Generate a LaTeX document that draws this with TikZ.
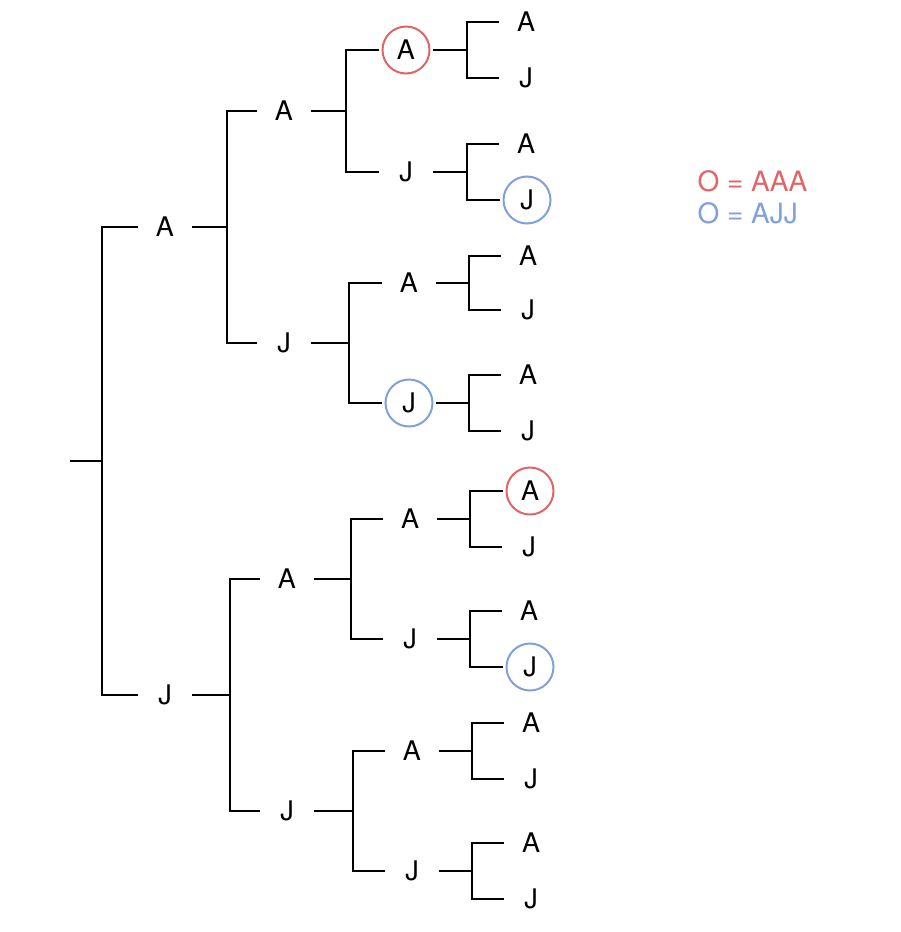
\documentclass[tikz,border=0pt]{standalone}
\usepackage{fontspec}
\setmainfont{TeX Gyre Heros}
\definecolor{pickred}{HTML}{E06666}
\definecolor{pickblue}{HTML}{7EA1DD}
\tikzset{lbl/.style={circle, inner sep=0pt, minimum size=54pt, font=\fontsize{27}{32}\selectfont},
	hitred/.style={lbl, minimum size=47pt, outer sep=3.5pt, draw=pickred, line width=2pt},
	hitblue/.style={lbl, minimum size=47pt, outer sep=3.5pt, draw=pickblue, line width=2pt},
	branch/.style={draw, line width=2.4pt}}

\begin{document}
\begin{tikzpicture}[x=1pt, y=-1pt]
	\useasboundingbox (0,0) rectangle (900,932);
	%Wurzel
	\coordinate (r) at (70,461);
	\coordinate (j) at (102,461);
	%Ebene 1
	\node[lbl] (nA) at (165,227) {A};
	\node[lbl] (nJ) at (165,695) {J};
	\coordinate (jA) at (227,227);
	\coordinate (jJ) at (230,695);
	%Ebene 2
	\node[lbl] (nAA) at (284,111) {A};
	\node[lbl] (nAJ) at (284,343) {J};
	\node[lbl] (nJA) at (287,579) {A};
	\node[lbl] (nJJ) at (287,811) {J};
	\coordinate (jAA) at (346,111);
	\coordinate (jAJ) at (349,343);
	\coordinate (jJA) at (351,579);
	\coordinate (jJJ) at (353,811);
	%Ebene 3
	\node[hitred] (nAAA) at (406,50) {A};
	\node[lbl] (nAAJ) at (406,172) {J};
	\node[lbl] (nAJA) at (409,283) {A};
	\node[hitblue] (nAJJ) at (409,403) {J};
	\node[lbl] (nJAA) at (410,519) {A};
	\node[lbl] (nJAJ) at (410,639) {J};
	\node[lbl] (nJJA) at (412,751) {A};
	\node[lbl] (nJJJ) at (412,871) {J};
	\coordinate (jAAA) at (467,50);
	\coordinate (jAAJ) at (467,172);
	\coordinate (jAJA) at (469,283);
	\coordinate (jAJJ) at (469,403);
	\coordinate (jJAA) at (470,519);
	\coordinate (jJAJ) at (470,639);
	\coordinate (jJJA) at (472,751);
	\coordinate (jJJJ) at (472,871);
	%Blaetter
	\node[lbl] (nAAAA) at (526,22) {A};
	\node[lbl] (nAAAJ) at (526,78) {J};
	\node[lbl] (nAAJA) at (526,144) {A};
	\node[hitblue] (nAAJJ) at (527,200) {J};
	\node[lbl] (nAJAA) at (528,256) {A};
	\node[lbl] (nAJAJ) at (528,310) {J};
	\node[lbl] (nAJJA) at (528,375) {A};
	\node[lbl] (nAJJJ) at (528,431) {J};
	\node[hitred] (nJAAA) at (530,491) {A};
	\node[lbl] (nJAAJ) at (529,547) {J};
	\node[lbl] (nJAJA) at (529,611) {A};
	\node[hitblue] (nJAJJ) at (530,667) {J};
	\node[lbl] (nJJAA) at (531,723) {A};
	\node[lbl] (nJJAJ) at (531,779) {J};
	\node[lbl] (nJJJA) at (531,843) {A};
	\node[lbl] (nJJJJ) at (531,899) {J};
	%Verzweigungen
	\draw[branch] (r) -- (j);
	\draw[branch] (nA.west) -| (j) |- (nJ.west);
	\draw[branch] (nA.east) -- (jA);
	\draw[branch] (nJ.east) -- (jJ);
	\draw[branch] (nAA.west) -| (jA) |- (nAJ.west);
	\draw[branch] (nJA.west) -| (jJ) |- (nJJ.west);
	\draw[branch] (nAA.east) -- (jAA);
	\draw[branch] (nAJ.east) -- (jAJ);
	\draw[branch] (nJA.east) -- (jJA);
	\draw[branch] (nJJ.east) -- (jJJ);
	\draw[branch] (nAAA.west) -| (jAA) |- (nAAJ.west);
	\draw[branch] (nAJA.west) -| (jAJ) |- (nAJJ.west);
	\draw[branch] (nJAA.west) -| (jJA) |- (nJAJ.west);
	\draw[branch] (nJJA.west) -| (jJJ) |- (nJJJ.west);
	\draw[branch] (nAAA.east) -- (jAAA);
	\draw[branch] (nAAJ.east) -- (jAAJ);
	\draw[branch] (nAJA.east) -- (jAJA);
	\draw[branch] (nAJJ.east) -- (jAJJ);
	\draw[branch] (nJAA.east) -- (jJAA);
	\draw[branch] (nJAJ.east) -- (jJAJ);
	\draw[branch] (nJJA.east) -- (jJJA);
	\draw[branch] (nJJJ.east) -- (jJJJ);
	\draw[branch] (nAAAA.west) -| (jAAA) |- (nAAAJ.west);
	\draw[branch] (nAAJA.west) -| (jAAJ) |- (nAAJJ.west);
	\draw[branch] (nAJAA.west) -| (jAJA) |- (nAJAJ.west);
	\draw[branch] (nAJJA.west) -| (jAJJ) |- (nAJJJ.west);
	\draw[branch] (nJAAA.west) -| (jJAA) |- (nJAAJ.west);
	\draw[branch] (nJAJA.west) -| (jJAJ) |- (nJAJJ.west);
	\draw[branch] (nJJAA.west) -| (jJJA) |- (nJJAJ.west);
	\draw[branch] (nJJJA.west) -| (jJJJ) |- (nJJJJ.west);
	%Legende
	\node[anchor=west, text=pickred, font=\fontsize{28}{32}\selectfont] (keyred) at (694,181) {O = AAA};
	\node[anchor=west, text=pickblue, font=\fontsize{28}{32}\selectfont] (keyblue) at (694,213) {O = AJJ};
\end{tikzpicture}
\end{document}
